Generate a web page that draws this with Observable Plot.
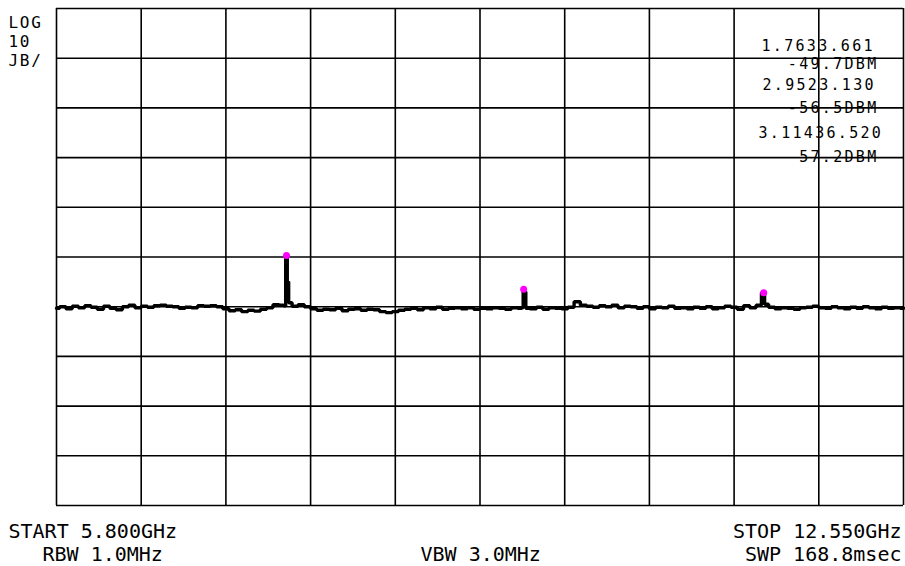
<!DOCTYPE html>
<html>
<head>
<meta charset="utf-8">
<script src="https://cdn.jsdelivr.net/npm/d3@7"></script>
<script src="https://cdn.jsdelivr.net/npm/@observablehq/plot@0.6"></script>
<style>
  html, body { margin: 0; padding: 0; background: #fff; }
  svg { display: block; }
</style>
</head>
<body>
<div id="chart"></div>
<script>
// Sweep: 5.800 GHz .. 12.550 GHz, 10 dB/div, reference 0 dBm
const freqs = [
  5.80, 5.85, 5.90, 5.95, 6.00, 6.05, 6.10, 6.15, 6.20, 6.25, 6.30, 6.35, 6.40, 6.45, 6.50, 6.55,
  6.60, 6.65, 6.70, 6.75, 6.80, 6.85, 6.90, 6.95, 7.00, 7.05, 7.10, 7.15, 7.20, 7.25, 7.30, 7.35,
  7.40, 7.45, 7.50, 7.55, 7.60, 7.62, 7.633, 7.645, 7.655, 7.70, 7.75, 7.80, 7.85, 7.90, 7.95, 8.00,
  8.05, 8.10, 8.15, 8.20, 8.25, 8.30, 8.35, 8.40, 8.45, 8.50, 8.55, 8.60, 8.65, 8.70, 8.75, 8.80,
  8.85, 8.90, 8.95, 9.00, 9.05, 9.10, 9.15, 9.20, 9.25, 9.30, 9.35, 9.40, 9.45, 9.50, 9.515, 9.523,
  9.535, 9.545, 9.60, 9.65, 9.70, 9.75, 9.80, 9.85, 9.90, 9.95, 10.00, 10.05, 10.10, 10.15, 10.20, 10.25,
  10.30, 10.35, 10.40, 10.45, 10.50, 10.55, 10.60, 10.65, 10.70, 10.75, 10.80, 10.85, 10.90, 10.95, 11.00, 11.05,
  11.10, 11.15, 11.20, 11.25, 11.30, 11.35, 11.40, 11.436, 11.45, 11.50, 11.55, 11.60, 11.65, 11.70, 11.75, 11.80,
  11.85, 11.90, 11.95, 12.00, 12.05, 12.10, 12.15, 12.20, 12.25, 12.30, 12.35, 12.40, 12.45, 12.50, 12.55
];
const levels = [
  -60.3, -60.0, -60.4, -59.9, -60.2, -59.8, -60.1, -60.5, -59.9, -60.3, -60.6, -60.0, -59.7, -60.2, -59.9, -60.1,
  -59.8, -59.7, -59.9, -60.0, -60.3, -60.1, -60.2, -59.8, -59.9, -59.8, -60.0, -60.4, -60.8, -60.6, -61.0, -60.7,
  -60.9, -60.5, -60.2, -59.6, -59.7, -59.8, -49.7, -55.0, -59.2, -59.9, -59.6, -60.0, -60.4, -60.7, -60.5, -60.6,
  -60.3, -60.8, -60.5, -60.4, -60.7, -60.5, -60.6, -61.0, -61.2, -61.0, -60.7, -60.5, -60.3, -60.6, -60.2, -60.4,
  -60.1, -60.5, -60.3, -60.2, -60.4, -60.2, -60.5, -60.3, -60.4, -60.2, -60.3, -60.5, -60.2, -60.3, -60.2, -56.5,
  -57.0, -60.3, -60.4, -60.1, -60.5, -60.2, -60.3, -60.4, -60.1, -59.0, -59.7, -59.9, -60.1, -59.8, -60.0, -59.7,
  -60.2, -59.9, -60.0, -60.3, -60.0, -60.4, -60.1, -60.2, -59.9, -60.3, -60.2, -60.4, -60.1, -60.3, -60.0, -60.4,
  -60.2, -59.9, -60.1, -60.5, -59.8, -60.2, -59.7, -57.2, -59.5, -60.1, -60.4, -60.2, -60.3, -60.5, -60.2, -60.1,
  -59.9, -60.2, -60.3, -60.0, -60.2, -60.4, -60.1, -60.3, -60.0, -60.2, -60.4, -60.1, -60.3, -60.2, -60.3
];
const markerFreqs = [7.633, 9.523, 11.436];
const markerLevels = [-49.7, -56.5, -57.2];
const gridFreqs = [5.8, 6.475, 7.15, 7.825, 8.5, 9.175, 9.85, 10.525, 11.2, 11.875, 12.55];
const gridLevels = [0, -10, -20, -30, -40, -50, -60, -70, -80, -90, -100];
const scaleLabels = ["LOG", "10", "JB/"];
const readoutLabels = ["1.7633.661", "-49.7DBM", "2.9523.130", "-56.5DBM", "3.11436.520", "57.2DBM"];
const footerLabels = ["START 5.800GHz", "RBW 1.0MHz", "VBW 3.0MHz", "STOP 12.550GHz", "SWP 168.8msec"];

const trace = freqs.map((f, i) => ({f, db: levels[i]}));
const markers = markerFreqs.map((f, i) => ({f, db: markerLevels[i]}));

const font = "DejaVu Sans Mono";
const ML = 56, MT = 8;
function label(text, x, baseline, size, anchor) {
  return Plot.text([text], {
    text: d => d, frameAnchor: "top-left", textAnchor: anchor || "start", lineAnchor: "bottom",
    dx: x - ML, dy: baseline - MT, fontFamily: font, fontSize: size, fill: "#000"
  });
}

const chart = Plot.plot({
  width: 905, height: 566,
  marginLeft: ML, marginRight: 2, marginTop: MT, marginBottom: 61,
  style: {background: "#fff"},
  x: {domain: [5.8, 12.55], axis: null},
  y: {domain: [-100, 0], axis: null},
  marks: [
    Plot.ruleX(gridFreqs, {stroke: "#000", strokeWidth: 1.6}),
    Plot.ruleY(gridLevels, {stroke: "#000", strokeWidth: 1.6}),
    Plot.line(trace, {x: "f", y: "db", stroke: "#000", strokeWidth: 3.4, strokeLinejoin: "miter", curve: "step"}),
    Plot.dot(markers, {x: "f", y: "db", r: 3.5, fill: "#ff00ff", stroke: "none"}),
    label(scaleLabels[0], 8, 27, 16),
    label(scaleLabels[1], 8, 46, 16),
    label(scaleLabels[2], 8, 65, 16),
    label(readoutLabels[0], 761, 50, 15),
    label(readoutLabels[1], 878, 68, 15, "end"),
    label(readoutLabels[2], 762, 89, 15),
    label(readoutLabels[3], 878, 112, 15, "end"),
    label(readoutLabels[4], 758, 137, 15),
    label(readoutLabels[5], 878, 161, 15, "end"),
    label(footerLabels[0], 8, 537, 20),
    label(footerLabels[1], 42, 560, 20),
    label(footerLabels[2], 420, 560, 20),
    label(footerLabels[3], 901, 537, 20, "end"),
    label(footerLabels[4], 901, 560, 20, "end")
  ]
});
// widen the small monospace labels to the instrument's character pitch
d3.select(chart).selectAll("text").each(function () {
  const t = this.textContent;
  if (scaleLabels.includes(t)) d3.select(this).attr("letter-spacing", "1.7px");
  if (readoutLabels.includes(t)) d3.select(this).attr("letter-spacing", "2.3px");
});
document.getElementById("chart").appendChild(chart);
</script>
</body>
</html>
